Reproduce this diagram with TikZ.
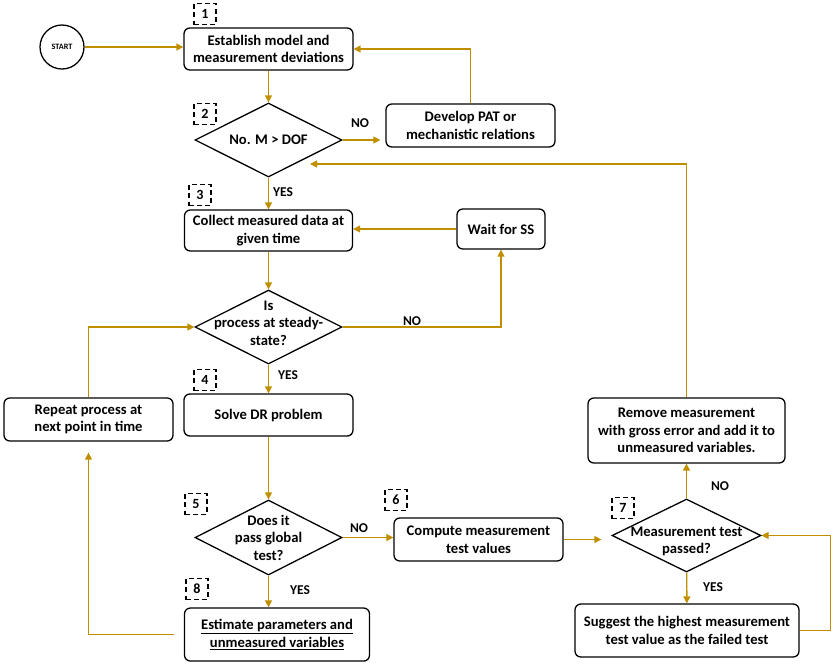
\documentclass[tikz,border=0pt]{standalone}
\usepackage{fontspec}
\setmainfont{Carlito}
\usetikzlibrary{arrows.meta,shapes.geometric,positioning}
\definecolor{flowgold}{RGB}{191,143,0}
\tikzset{
  basic/.style    = {draw, line width=1.1pt, font=\bfseries\fontsize{12.5}{15}\selectfont, align=center},
  process/.style  = {basic, rectangle, rounded corners=5pt, inner sep=2pt,
                     minimum width=5.07cm, minimum height=1.26cm},
  decision/.style = {basic, diamond, inner sep=0pt,
                     minimum width=4.41cm, minimum height=2.22cm},
  dectext/.style  = {font=\bfseries\fontsize{12.5}{15}\selectfont, align=center},
  startnode/.style = {draw, line width=1.1pt, circle, minimum size=1.32cm, inner sep=0pt,
                     font=\bfseries\fontsize{7}{8}\selectfont},
  stepnum/.style  = {draw, dash pattern=on 4pt off 3pt, line width=0.9pt, minimum width=0.66cm,
                     minimum height=0.63cm, inner sep=0pt, font=\bfseries\fontsize{12}{14}\selectfont},
  answer/.style   = {font=\bfseries\fontsize{11.5}{13}\selectfont},
  flow/.style     = {->, flowgold, line width=1.2pt}
}

\begin{document}
\begin{tikzpicture}[x=0.03cm, y=-0.03cm, >={Triangle[length=6pt,width=6pt]}]
\useasboundingbox (0,0) rectangle (834,664);

% main column
\node[startnode] (start) at (62,47) {START};
\node[process] (est) at (268.5,49) {Establish model and\\measurement deviations};
\node[decision, below of = est, node distance=2.73cm,
      label={[dectext]center:No. M > DOF}] (dof) {};
\node[process, below of = dof, node distance=2.715cm, minimum width=5.04cm, minimum height=1.23cm]
      (collect) {Collect measured data at\\given time};
\node[decision, below of = collect, node distance=2.895cm,
      label={[dectext, yshift=0.12cm]center:Is\\process at steady-\\state?}] (steady) {};
\node[process, below of = steady, node distance=2.64cm] (solve) {Solve DR problem};
\node[decision, below of = solve, node distance=3.675cm, minimum height=2.25cm,
      label={[dectext]center:Does it\\pass global\\test?}] (glob) {};
\node[process, below of = glob, node distance=2.91cm, xshift=0.255cm,
      minimum width=5.55cm, minimum height=1.59cm]
      (estim) {\underline{Estimate parameters and}\\\underline{unmeasured variables}};

% side nodes
\node[process, minimum height=1.29cm] (pat) at (470.5,125.5) {Develop PAT or\\mechanistic relations};
\node[process, minimum width=2.64cm, minimum height=1.2cm] (wait) at (501,229) {Wait for SS};
\node[process, minimum height=1.29cm] (repeat) at (88.5,419.5) {Repeat process at\\next point in time};
\node[process, minimum height=1.29cm] (compute) at (478.5,539.5) {Compute measurement\\test values};
\node[decision, minimum width=4.47cm, minimum height=2.19cm,
      label={[dectext, yshift=-0.18cm]center:Measurement test\\passed?}] (mtest) at (686.5,535.5) {};
\node[process, minimum width=5.91cm, minimum height=1.95cm]
      (remove) at (686.5,430.5) {Remove measurement\\with gross error and add it to\\unmeasured variables.};
\node[process, minimum width=6.72cm, minimum height=1.59cm]
      (suggest) at (687,630.5) {Suggest the highest measurement\\test value as the failed test};
\coordinate (back) at (310,164);

% step numbers
\foreach \n/\px/\py in {1/205/14, 2/205/114, 3/200/195, 4/205/380,
                        5/196/504, 6/396/500, 7/623/508, 8/197/589}
  \node[stepnum] (s\n) at (\px,\py) {\n};

% answers
\foreach \i/\txt/\px/\py in {1/NO/360/123, 2/YES/283/192, 3/NO/412/321, 4/YES/288/375,
                             5/NO/359/528, 6/YES/300/590, 7/NO/720/486, 8/YES/713/587}
  \node[answer] (a\i) at (\px,\py) {\txt};

% connectors
\draw[flow] (start) -- (start -| est.west);
\foreach \a/\b in {est/dof, dof/collect, collect/steady, steady/solve, solve/glob}
  \draw[flow] (\a) -- (\b);
\draw[flow] (glob.south) -- (glob.south |- estim.north);
\draw[flow, shorten >=0.15cm] (dof.east) -- (dof.east -| pat.west);
\draw[flow] (pat.north) |- (est.east);
\draw[flow] (wait.west) -- (wait.west -| collect.east);
\draw[flow] (steady.east) -| (wait.south);
\draw[flow] (repeat.north) |- (steady.west);
\draw[flow] (glob.east) -- (glob.east -| compute.west);
\draw[flow, shorten >=0.3cm] (compute.east) -- (compute.east -| mtest.west);
\draw[flow] (mtest) -- (remove);
\draw[flow] (remove.north) |- (back);
\draw[flow] (mtest) -- (suggest);
\draw[flow] (suggest.east) -- ++(31,0) |- (mtest.east);
\draw[flow, shorten <=0.3cm, shorten >=0.33cm] (estim.west) -| (repeat.south);
\end{tikzpicture}
\end{document}
